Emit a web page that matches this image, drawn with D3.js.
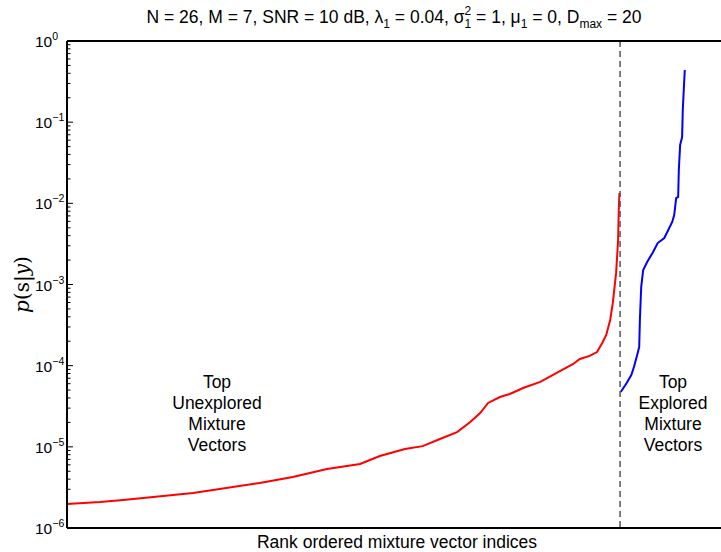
<!DOCTYPE html>
<html>
<head>
<meta charset="utf-8">
<script src="https://cdn.jsdelivr.net/npm/d3@7"></script>
<style>
  html, body { margin: 0; padding: 0; background: #fff; }
  svg { display: block; font-family: "Liberation Sans", Arial, Helvetica, sans-serif; }
</style>
</head>
<body>
<div id="chart"></div>
<script>
// ---- Data ----
// Red: top unexplored mixture vectors (rank index, p(s|y))
const unexploredRanks = [0, 50, 85, 191, 292, 342, 394, 444, 474, 512, 539, 565, 591, 611, 626, 638, 656, 671, 691, 717, 742, 767, 777, 792, 803, 811, 817, 823, 827, 832, 835, 836, 837];
const unexploredValues = [1.98e-6, 2.09e-6, 2.21e-6, 2.70e-6, 3.59e-6, 4.26e-6, 5.33e-6, 6.15e-6, 7.71e-6, 9.40e-6, 1.02e-5, 1.25e-5, 1.52e-5, 2.02e-5, 2.61e-5, 3.47e-5, 4.11e-5, 4.48e-5, 5.31e-5, 6.30e-5, 8.13e-5, 1.05e-4, 1.21e-4, 1.32e-4, 1.47e-4, 1.90e-4, 2.39e-4, 3.66e-4, 5.92e-4, 1.39e-3, 3.53e-3, 8.28e-3, 1.34e-2];
// Blue: top explored mixture vectors
const exploredRanks = [839, 848, 855, 859, 864, 867, 868, 870, 873, 879, 888, 895, 905, 911, 917, 920, 923, 926, 927, 929, 932, 933, 936];
const exploredValues = [4.74e-5, 6.12e-5, 7.67e-5, 9.64e-5, 1.36e-4, 1.70e-4, 3.66e-4, 9.31e-4, 1.51e-3, 1.89e-3, 2.51e-3, 3.24e-3, 3.74e-3, 4.69e-3, 5.89e-3, 7.18e-3, 1.16e-2, 1.20e-2, 2.58e-2, 5.24e-2, 6.56e-2, 0.141, 0.440];
const dividerRank = 838;
const xDomain = [0, 1000];
const yDomain = [1e-6, 1];
const yTickExponents = [0, -1, -2, -3, -4, -5, -6];
const leftAnnotation = ["Top", "Unexplored", "Mixture", "Vectors"];
const rightAnnotation = ["Top", "Explored", "Mixture", "Vectors"];
const xLabel = "Rank ordered mixture vector indices";

// ---- Layout ----
const W = 721, H = 552;
const L = 67, R = 727, T = 41, B = 528;

const svg = d3.select("#chart").append("svg").attr("width", W).attr("height", H);

const x = d3.scaleLinear().domain(xDomain).range([L, R]);
const y = d3.scaleLog().domain(yDomain).range([B, T]);

// Minor ticks (inward) on left axis
const minor = [];
for (let e = -6; e < 0; e++) for (let k = 2; k <= 9; k++) minor.push(k * Math.pow(10, e));
const axisG = svg.append("g");
axisG.selectAll("line.minor").data(minor).enter().append("line")
  .attr("x1", L).attr("x2", L + 3.5)
  .attr("y1", d => y(d)).attr("y2", d => y(d))
  .attr("stroke", "#000").attr("stroke-width", 1);
axisG.selectAll("line.major").data(yTickExponents).enter().append("line")
  .attr("x1", L).attr("x2", L + 6)
  .attr("y1", d => y(Math.pow(10, d))).attr("y2", d => y(Math.pow(10, d)))
  .attr("stroke", "#000").attr("stroke-width", 1);

// Tick labels 10^k
const tl = svg.append("g").selectAll("text").data(yTickExponents).enter().append("text")
  .attr("x", 35).attr("y", d => y(Math.pow(10, d)) + 6)
  .attr("font-size", 15.5).attr("fill", "#000");
tl.append("tspan").text("10");
tl.append("tspan").attr("font-size", 10.5).attr("dy", -7).text(d => d === 0 ? "0" : "\u2212" + (-d));

// Curves
const line = d3.line().x(d => x(d[0])).y(d => y(d[1]));
svg.append("path")
  .datum(unexploredRanks.map((r, i) => [r, unexploredValues[i]]))
  .attr("d", line).attr("fill", "none").attr("stroke", "#ff0000").attr("stroke-width", 2);
svg.append("path")
  .datum(exploredRanks.map((r, i) => [r, exploredValues[i]]))
  .attr("d", line).attr("fill", "none").attr("stroke", "#0000ff").attr("stroke-width", 2);

// Divider
svg.append("line")
  .attr("x1", x(dividerRank)).attr("x2", x(dividerRank))
  .attr("y1", T).attr("y2", B)
  .attr("stroke", "#555").attr("stroke-width", 1.5).attr("stroke-dasharray", "6,4");

// Axes box (left, top, bottom)
svg.append("line").attr("x1", L).attr("x2", R).attr("y1", T).attr("y2", T).attr("stroke", "#000").attr("stroke-width", 2);
svg.append("line").attr("x1", L).attr("x2", R).attr("y1", B).attr("y2", B).attr("stroke", "#000").attr("stroke-width", 2);
svg.append("line").attr("x1", L).attr("x2", L).attr("y1", T).attr("y2", B).attr("stroke", "#000").attr("stroke-width", 2);

// Annotations
function annot(lines, cx) {
  const t = svg.append("text").attr("text-anchor", "middle").attr("font-size", 17.5).attr("fill", "#000");
  lines.forEach((s, i) => t.append("tspan").attr("x", cx).attr("y", 388 + i * 21).text(s));
}
annot(leftAnnotation, 217);
annot(rightAnnotation, 673);

// X label
svg.append("text").attr("x", (L + R) / 2).attr("y", 548).attr("text-anchor", "middle")
  .attr("font-size", 17.5).attr("fill", "#000").text(xLabel);

// Y label p(s|y)
const yl = svg.append("text").attr("transform", "translate(29," + ((T + B) / 2) + ") rotate(-90)")
  .attr("text-anchor", "middle").attr("font-size", 20)
  .attr("font-family", "'DejaVu Serif', 'Liberation Serif', serif").attr("fill", "#000");
yl.append("tspan").attr("font-style", "italic").text("p");
yl.append("tspan").text("(s|");
yl.append("tspan").attr("font-style", "italic").text("y");
yl.append("tspan").text(")");

// Title
const title = svg.append("text").attr("x", 394).attr("y", 23).attr("text-anchor", "middle")
  .attr("font-size", 17.5).attr("fill", "#000");
title.append("tspan").text("N = 26, M = 7, SNR = 10 dB, \u03bb");
title.append("tspan").attr("font-size", 12).attr("dy", 5).text("1");
title.append("tspan").attr("dy", -5).text(" = 0.04, \u03c3");
title.append("tspan").attr("font-size", 12).attr("dy", -8).text("2");
title.append("tspan").attr("font-size", 12).attr("dx", -6.7).attr("dy", 13).text("1");
title.append("tspan").attr("dy", -5).text(" = 1, \u03bc");
title.append("tspan").attr("font-size", 12).attr("dy", 5).text("1");
title.append("tspan").attr("dy", -5).text(" = 0, D");
title.append("tspan").attr("font-size", 12).attr("dy", 5).text("max");
title.append("tspan").attr("dy", -5).text(" = 20");
</script>
</body>
</html>
